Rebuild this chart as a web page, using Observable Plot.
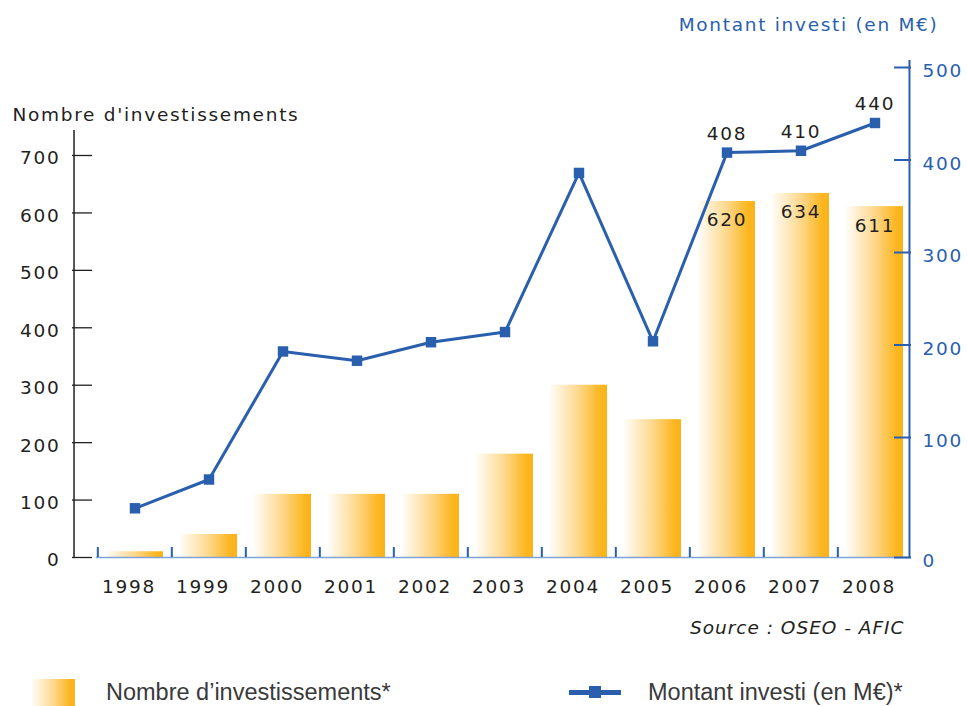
<!DOCTYPE html>
<html>
<head>
<meta charset="utf-8">
<script src="https://cdn.jsdelivr.net/npm/d3@7"></script>
<script src="https://cdn.jsdelivr.net/npm/@observablehq/plot@0.6"></script>
<style>
  html, body { margin: 0; padding: 0; background: #ffffff; }
  #wrap { position: relative; width: 967px; height: 706px; overflow: hidden; }
  #wrap svg text { letter-spacing: 1.7px; }
  #wrap svg g[font-style="italic"] text { letter-spacing: 1px; }
  .leg { position: absolute; font-family: "Liberation Sans", Arial, sans-serif; font-size: 23.5px; color: #3a3a3a; line-height: 1; white-space: nowrap; }
</style>
</head>
<body>
<div id="wrap"></div>
<script>
// ---- data ----
const years = ["1998", "1999", "2000", "2001", "2002", "2003", "2004", "2005", "2006", "2007", "2008"];
const counts = [10, 40, 110, 110, 110, 180, 300, 240, 620, 634, 611];          // Nombre d'investissements
const amounts = [41, 65, 193, 183, 203, 214, 386, 204, 408, 410, 440];          // Montant investi (M€)
const labeledYears = ["2006", "2007", "2008"];
const leftTicks = [0, 100, 200, 300, 400, 500, 600, 700];
const rightTicks = [0, 100, 200, 300, 400, 500];
const leftTitle = "Nombre d'investissements";
const rightTitle = "Montant investi (en M€)";
const sourceText = "Source : OSEO - AFIC";
const legendBars = "Nombre d’investissements*";
const legendLine = "Montant investi (en M€)*";

const data = years.map((y, i) => ({year: y, count: counts[i], amount: amounts[i]}));

// ---- layout ----
const W = 967, H = 650;
const ML = 95.8, MR = 53.3, MT = 155, MB = 93;
const FW = W - ML - MR;
const STEP = FW / years.length;
const PXU = (H - MB - MT) / 700;           // px per left unit
const RIGHT = W - MR;
const LAX = 72, LTICK_END = 92, RAX = 911;
const BLUE = "#2a5fae";
const INK = "#231f20";

// right axis (M€) drawn on the left-unit scale, as in the original (piecewise)
const toLeft = d3.scaleLinear().domain([0, 100, 500]).range([0, 120 / PXU, 490 / PXU]);

const labeled = data.filter(d => labeledYears.includes(d.year));

const svg = Plot.plot({
  width: W, height: H,
  marginLeft: ML, marginRight: MR, marginTop: MT, marginBottom: MB,
  x: {type: "band", domain: years, paddingInner: 0.233, paddingOuter: 0.1165, axis: null},
  y: {domain: [0, 700], axis: null},
  style: {fontFamily: "'DejaVu Sans', sans-serif", fontSize: "18.5px", color: INK, background: "#ffffff", overflow: "visible"},
  marks: [
    Plot.barY(data, {x: "year", y: "count", fill: "url(#barGrad)"}),
    Plot.ruleY([0], {stroke: "#7fa3d6", strokeWidth: 1.5, insetRight: RIGHT - RAX}),
    Plot.ruleX(years, {x: d => d, dx: -STEP / 2, y1: 0, y2: 10 / PXU, stroke: BLUE, strokeWidth: 2}),
    // left axis
    Plot.ruleX([years[0]], {x: d => d, dx: LAX - (ML + STEP / 2), y1: 0, y2: (H - MB - 130) / PXU, stroke: INK, strokeWidth: 1.5}),
    Plot.ruleY(leftTicks, {y: d => d, insetLeft: LAX - ML, insetRight: RIGHT - LTICK_END, stroke: INK, strokeWidth: 1.3}),
    Plot.text(leftTicks, {y: d => d, text: d => String(d), frameAnchor: "left", lineAnchor: "middle", textAnchor: "end", dx: 60 - ML, dy: 3, fill: INK}),
    Plot.text([leftTitle], {text: d => d, frameAnchor: "top-left", lineAnchor: "middle", textAnchor: "start", dx: 12 - ML, dy: 115 - MT, fill: INK}),
    // right axis
    Plot.ruleX([years[years.length - 1]], {x: d => d, dx: RAX - (RIGHT - STEP / 2), y1: 0, y2: (H - MB - 60) / PXU, stroke: BLUE, strokeWidth: 2}),
    Plot.ruleY(rightTicks, {y: d => toLeft(d), insetLeft: 894 - ML, insetRight: RIGHT - RAX, stroke: BLUE, strokeWidth: 2}),
    Plot.text(rightTicks, {y: d => toLeft(d), text: d => String(d), frameAnchor: "right", lineAnchor: "middle", textAnchor: "start", dx: 922 - RIGHT, dy: 4, fill: BLUE}),
    Plot.text([rightTitle], {text: d => d, frameAnchor: "top-right", lineAnchor: "middle", textAnchor: "end", dx: 938 - RIGHT, dy: 25 - MT, fill: BLUE}),
    // line series
    Plot.line(data, {x: "year", y: d => toLeft(d.amount), stroke: BLUE, strokeWidth: 3}),
    Plot.dot(data, {x: "year", y: d => toLeft(d.amount), symbol: "square", r: 5.9, fill: BLUE, stroke: "none"}),
    Plot.text(labeled, {x: "year", y: d => toLeft(d.amount), text: d => String(d.amount), dy: -19, fill: INK}),
    Plot.text(labeled, {x: "year", y: "count", text: d => String(d.count), dy: 19, fill: INK}),
    // x labels
    Plot.text(years, {x: d => d, text: d => d, frameAnchor: "bottom", lineAnchor: "middle", dy: 29.5, dx: -6, fill: INK}),
    // source
    Plot.text([sourceText], {text: d => d, frameAnchor: "bottom-right", lineAnchor: "middle", textAnchor: "end", dx: 904 - RIGHT, dy: 628 - (H - MB), fontStyle: "italic", fontSize: 18.5, fill: INK})
  ]
});

// gradient for bars (white -> orange, left to right)
const defs = d3.select(svg).insert("defs", ":first-child");
const grad = defs.append("linearGradient").attr("id", "barGrad").attr("x1", "0").attr("x2", "1").attr("y1", "0").attr("y2", "0");
grad.append("stop").attr("offset", "0").attr("stop-color", "#fffdf8");
grad.append("stop").attr("offset", "0.5").attr("stop-color", "#fdd88c");
grad.append("stop").attr("offset", "0.88").attr("stop-color", "#fcb620");
grad.append("stop").attr("offset", "1").attr("stop-color", "#fbb318");

const wrap = document.getElementById("wrap");
wrap.appendChild(svg);

// legend (below the svg)
const legHtml = `
  <div style="position:absolute;left:32px;top:679px;width:43px;height:27px;background:linear-gradient(to right,#fffdf8 0%,#fdd88c 50%,#fcb620 88%,#fbb318 100%);"></div>
  <div class="leg" style="left:106px;top:681px;">${legendBars}</div>
  <div style="position:absolute;left:569px;top:690px;width:52px;height:5px;background:${BLUE};"></div>
  <div style="position:absolute;left:589px;top:686px;width:12px;height:12px;background:${BLUE};"></div>
  <div class="leg" style="left:648px;top:681px;">${legendLine}</div>`;
wrap.insertAdjacentHTML("beforeend", legHtml);
</script>
</body>
</html>
